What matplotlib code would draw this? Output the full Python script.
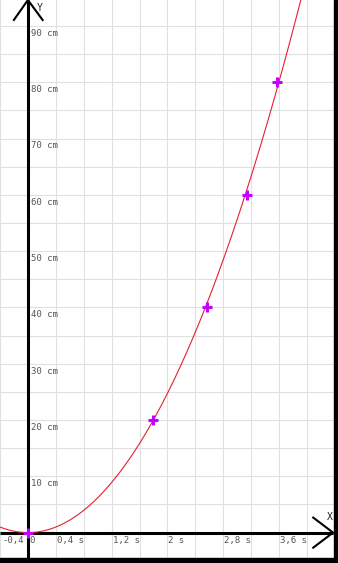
import numpy as np
import matplotlib
matplotlib.use("Agg")
import matplotlib.pyplot as plt

# measured points (time in s, distance in cm)
t_s = [0, 1.80, 2.565, 3.135, 3.575]
d_cm = [0, 20, 40, 60, 80]

x_labels = [-0.4, 0, 0.4, 1.2, 2.0, 2.8, 3.6]
y_labels = [10, 20, 30, 40, 50, 60, 70, 80, 90]

# fit d = a * t^2 through the points
t = np.array(t_s)
d = np.array(d_cm)
a = (d * t**2).sum() / (t**4).sum()

fig = plt.figure(figsize=(3.38, 5.63), dpi=100)
ax = fig.add_axes([0, 0, 1, 1])
ax.set_xlim(-0.357, 4.445)
ax.set_ylim(-5.40, 94.63)

# grid
ax.set_xticks(np.arange(-0.4, 4.5, 0.4))
ax.set_yticks(np.arange(-5, 95, 5))
ax.grid(True, color='#e0e0e0', lw=0.8)
ax.tick_params(length=0, labelbottom=False, labelleft=False)
for s in ax.spines.values():
    s.set_visible(False)

# axes with arrows
ax.plot([-0.4, 4.374], [0, 0], c='k', lw=2.2, solid_capstyle='butt', zorder=3)
ax.plot([0, 0], [-6, 94.63], c='k', lw=2.2, solid_capstyle='butt', zorder=3)
ax.plot([4.09, 4.374, 4.09], [2.67, 0, -2.67], c='k', lw=1.5, zorder=3)
ax.plot([-0.201, 0, 0.211], [91.08, 94.63, 91.08], c='k', lw=1.5, zorder=3)
ax.text(4.28, 2.8, 'X', fontsize=7, color='#222', family='DejaVu Sans Mono', va='center')
ax.text(0.13, 93.2, 'Y', fontsize=7, color='#222', family='DejaVu Sans Mono', va='center')

# curve and points
tt = np.linspace(-0.4, 4.0, 300)
ax.plot(tt, a * tt**2, c='#e8202e', lw=0.8, zorder=4)
ax.plot(t_s, d_cm, ls='none', marker='+', ms=7, mew=2.2, c='#c400ff', zorder=5)

# tick labels
lab = dict(fontsize=6.5, color='#555', family='DejaVu Sans Mono', va='center')
for v in x_labels:
    s = ('%g' % v).replace('.', ',')
    if v < 0:
        ax.text(-0.06, -1.44, s, ha='right', **lab)
    elif v == 0:
        ax.text(0.026, -1.44, s, ha='left', **lab)
    else:
        ax.text(v + 0.015, -1.44, s + ' s', ha='left', **lab)
for v in y_labels:
    ax.text(0.045, v - 1.3, '%d cm' % v, ha='left', **lab)

# black frame on right and bottom
fig.patches.append(plt.Rectangle((334 / 338, 0), 4 / 338, 1, transform=fig.transFigure,
                                 color='k', zorder=10))
fig.patches.append(plt.Rectangle((0, 0), 1, 5 / 563, transform=fig.transFigure,
                                 color='k', zorder=10))

fig.savefig('out.png', dpi=100)
